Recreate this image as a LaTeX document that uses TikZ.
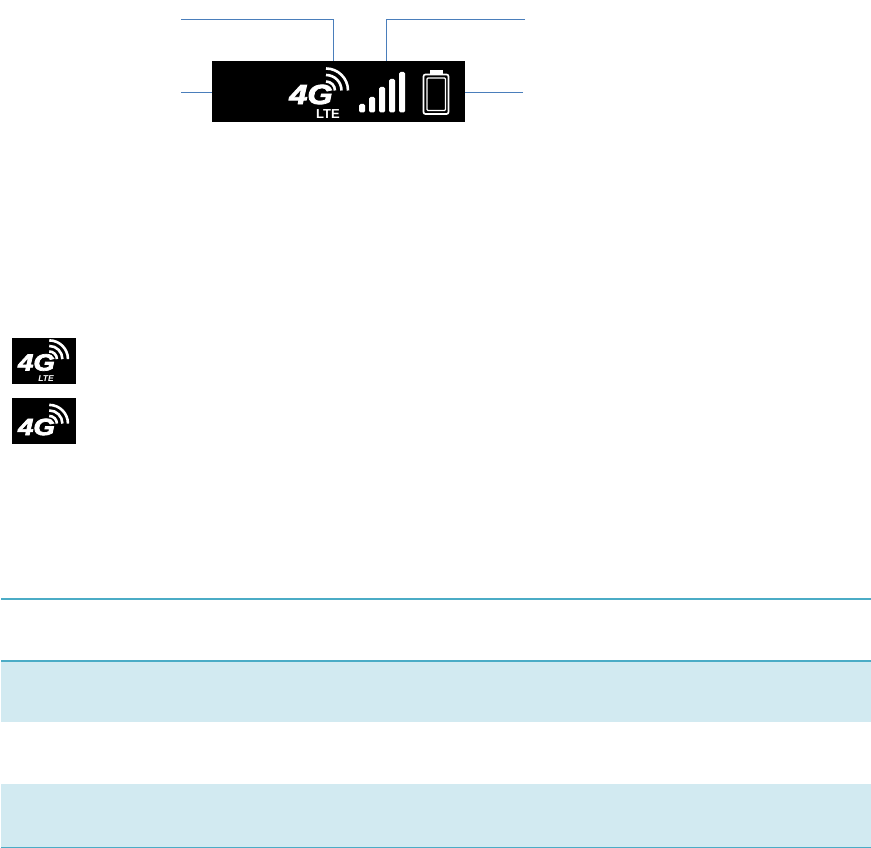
\documentclass[tikz,border=0pt]{standalone}
\usepackage{xcolor}
\usepackage{fontspec}
\setmainfont{Liberation Sans}
\newfontfamily\heavyfont{Liberation Sans}[BoldItalicFeatures={FakeBold=3}]
\definecolor{colLeader}{HTML}{4A7EBB}
\definecolor{colRule}{HTML}{4BACC6}
\definecolor{colBand}{HTML}{D2EAF1}
\usetikzlibrary{positioning, calc}
\tikzset{
	leader/.style={draw=colLeader, line width=1pt},
	tablerule/.style={draw=colRule, line width=#1},
	panel/.style={fill=black, inner sep=0pt, anchor=north west},
	fourg/.pic={
		\node[white, font=\heavyfont\bfseries\itshape\fontsize{24}{24}\selectfont, inner sep=0pt, transform shape, xscale=1.35, yscale=1.15] at (0,0) {4G};
		\foreach \r in {9,15.5,22}
			\draw[white, line width=2.6pt] (15,-4)+(0:\r) arc[start angle=0, end angle=-90, radius=\r];
	}
}
\begin{document}
\begin{tikzpicture}[x=1pt, y=-1pt]
	\useasboundingbox (0,0) rectangle (871,848);
	% status bar
	\node[panel, minimum width=253pt, minimum height=61pt] (statusbar) at (212,61) {};
	\coordinate (ltetop) at (333,61);
	\coordinate (bartop) at (386.5,61);
	\coordinate (ltehead) at (181,19.5);
	\coordinate (barhead) at (525,19.5);
	\coordinate (leftend) at (181,93);
	\coordinate (rightend) at (523,93);
	\draw[leader] (ltehead) -| (ltetop);
	\draw[leader] (barhead) -| (bartop);
	\draw[leader] (leftend) -- (leftend -| statusbar.west);
	\draw[leader] (rightend) -- (rightend -| statusbar.east);
	\pic at (311,94.5) {fourg};
	\node[white, font=\bfseries\fontsize{13}{13}\selectfont, inner sep=0pt] (ltelabel) at (328,114.5) {LTE};
	% signal bars
	\foreach \x/\t in {359/104, 369/97, 379/87, 389/79, 399/72}
		\fill[white, rounded corners=1.5pt] (\x,\t) rectangle (\x+6,112.5);
	% battery
	\draw[white, line width=1.7pt, rounded corners=2pt] (423.5,74.5) rectangle (448.5,114);
	\draw[white, line width=1.2pt, rounded corners=1pt] (427,78) rectangle (445.5,110.5);
	\fill[white] (430,70.5) rectangle (443,74.5);
	% small icons
	\node[panel, minimum width=64pt, minimum height=46pt] (iconlte) at (12,338) {};
	\node[panel, minimum width=64pt, minimum height=46pt] (iconplain) at (12,398) {};
	\pic[scale=0.85] at (36.5,362.5) {fourg};
	\pic[scale=0.85] at (36.5,427) {fourg};
	\node[white, font=\bfseries\itshape\fontsize{8.5}{8.5}\selectfont, inner sep=0pt] (ltesmall) at (46,379) {LTE};
	% table
	\fill[colBand] (1,661) rectangle (871,722);
	\fill[colBand] (1,784) rectangle (871,846.5);
	\draw[tablerule=2pt] (1,599) -- (871,599);
	\draw[tablerule=2pt] (1,661) -- (871,661);
	\draw[tablerule=1pt] (1,847) -- (871,847);
\end{tikzpicture}
\end{document}
